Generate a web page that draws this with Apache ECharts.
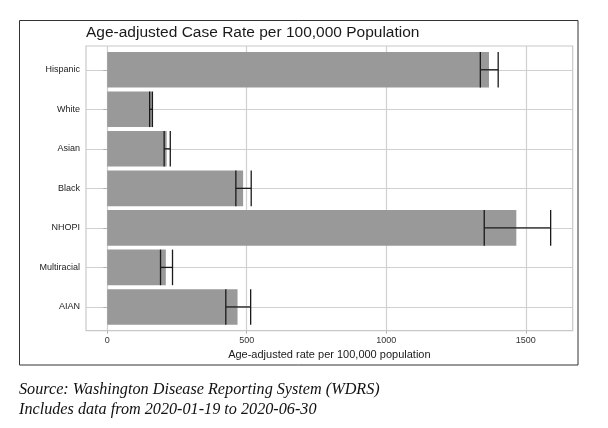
<!DOCTYPE html>
<html>
<head>
<meta charset="utf-8">
<script src="https://cdn.jsdelivr.net/npm/echarts@6/dist/echarts.min.js"></script>
<style>
html,body{margin:0;padding:0;background:#fff;}
#chart{width:608px;height:428px;}
</style>
</head>
<body>
<div id="chart"></div>
<script>
const categories = ['Hispanic', 'White', 'Asian', 'Black', 'NHOPI', 'Multiracial', 'AIAN'];
const rates = [1368, 160, 213, 487, 1466, 210, 467];
const lowerCI = [1337, 152, 204, 461, 1351, 191, 425];
const upperCI = [1401, 162, 226, 516, 1589, 234, 514];
const xTicks = [0, 500, 1000, 1500];
const titleText = 'Age-adjusted Case Rate per 100,000 Population';
const xAxisTitle = 'Age-adjusted rate per 100,000 population';
const captionLines = ['Source: Washington Disease Reporting System (WDRS)', 'Includes data from 2020-01-19 to 2020-06-30'];

const FONT = 'Liberation Sans, Arial, sans-serif';
const X_MIN = -76, X_MAX = 1668;

const chart = echarts.init(document.getElementById('chart'), null, {renderer: 'canvas'});

const errData = categories.map((c, i) => [lowerCI[i], upperCI[i], i]);

chart.setOption({
  animation: false,
  backgroundColor: '#ffffff',
  title: [
    {
      text: titleText, left: 86, top: 25, padding: 0,
      textStyle: {fontFamily: FONT, fontSize: 15.5, fontWeight: 'normal', color: '#1a1a1a'}
    },
    {
      text: captionLines.join('\n'), left: 19, top: 380, padding: 0,
      textStyle: {fontFamily: 'Liberation Serif, Times New Roman, serif', fontSize: 16.2, fontStyle: 'italic', fontWeight: 'normal', color: '#111', lineHeight: 19.5}
    }
  ],
  graphic: [
    {type: 'rect', shape: {x: 19.5, y: 20.5, width: 558.5, height: 344.5}, style: {fill: 'none', stroke: '#333', lineWidth: 1}, silent: true, z: 100}
  ],
  grid: [
    {left: 86, right: 35.3, top: 46, bottom: 97.3, show: true, borderColor: '#c8c8c8', borderWidth: 1.2, backgroundColor: 'transparent'},
    {left: 86, right: 35.3, top: 50, bottom: 101.3}
  ],
  xAxis: [
    {
      gridIndex: 0, type: 'value', min: X_MIN, max: X_MAX,
      axisLine: {show: false},
      axisTick: {show: true, length: 3, lineStyle: {color: '#b3b3b3', width: 1}, customValues: xTicks},
      axisLabel: {fontFamily: FONT, fontSize: 9, color: '#333', margin: 5, customValues: xTicks,
        formatter: function (v) { return String(v); }},
      splitLine: {show: true, lineStyle: {color: '#d0d0d0', width: 1.2}},
      name: xAxisTitle, nameLocation: 'middle', nameGap: 16,
      nameTextStyle: {fontFamily: FONT, fontSize: 11, color: '#1a1a1a'}
    },
    {
      gridIndex: 1, type: 'value', min: X_MIN, max: X_MAX, show: false
    }
  ],
  yAxis: [
    {gridIndex: 0, type: 'value', show: false},
    {
      gridIndex: 1, type: 'category', data: categories, inverse: true,
      axisLine: {show: false},
      axisTick: {show: true, alignWithLabel: true, length: 4, lineStyle: {color: '#b3b3b3', width: 1}},
      axisLabel: {fontFamily: FONT, fontSize: 9, color: '#222', margin: 6},
      splitLine: {show: true, alignWithLabel: true, lineStyle: {color: '#d0d0d0', width: 1.2}}
    }
  ],
  series: [
    {
      type: 'bar', xAxisIndex: 1, yAxisIndex: 1, data: rates,
      barCategoryGap: '10%',
      itemStyle: {color: '#999999'}
    },
    {
      type: 'custom', xAxisIndex: 1, yAxisIndex: 1, data: errData,
      encode: {x: [0, 1], y: 2},
      renderItem: function (params, api) {
        const lo = api.coord([api.value(0), api.value(2)]);
        const hi = api.coord([api.value(1), api.value(2)]);
        const h = api.size([0, 1])[1] * 0.9 / 2;
        const st = {stroke: '#1a1a1a', lineWidth: 1.3};
        return {
          type: 'group',
          children: [
            {type: 'line', shape: {x1: lo[0], y1: lo[1], x2: hi[0], y2: hi[1]}, style: st},
            {type: 'line', shape: {x1: lo[0], y1: lo[1] - h, x2: lo[0], y2: lo[1] + h}, style: st},
            {type: 'line', shape: {x1: hi[0], y1: hi[1] - h, x2: hi[0], y2: hi[1] + h}, style: st}
          ]
        };
      },
      z: 5
    }
  ]
});
</script>
</body>
</html>
